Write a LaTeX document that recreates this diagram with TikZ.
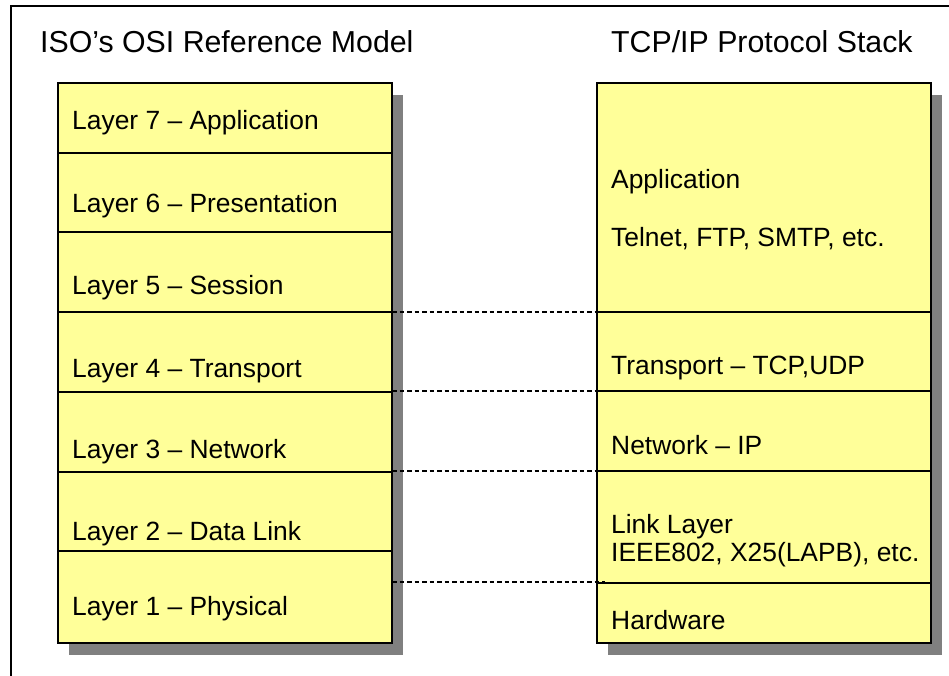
\documentclass[tikz,border=0pt]{standalone}
\usepackage{fontspec}
\setmainfont{Liberation Sans}
\definecolor{boxfill}{HTML}{FFFF99}
\definecolor{shadowgray}{HTML}{808080}
\begin{document}
\begin{tikzpicture}[x=1pt,y=-1pt,
  txt/.style={anchor=base west,inner sep=0pt,font=\fontsize{26.4}{29}\selectfont},
  ttl/.style={anchor=base west,inner sep=0pt,font=\fontsize{30.3}{33}\selectfont},
  shadowbox/.style={fill=shadowgray},
  layerbox/.style={fill=boxfill,draw=black,line width=1.8pt},
  divider/.style={draw=black,line width=1.8pt},
  link/.style={draw=black,line width=2pt,dash pattern=on 4.5pt off 3pt}]
\useasboundingbox (0,0) rectangle (949,676);
\fill[white] (0,0) rectangle (949,676);
% frame
\draw[line width=2.6pt] (11,690) -- (11,6) -- (960,6);
% titles
\node[ttl] (t1) at (40,53) {ISO’s OSI Reference Model};
\node[ttl] (t2) at (611,53) {TCP/IP Protocol Stack};
% left stack
\fill[shadowbox] (69,95) rectangle (403,655);
\path[layerbox] (58,83) rectangle (392,643);
\foreach \y in {153,232,312,392,472,551} \draw[divider] (58,\y) -- (392,\y);
% right stack
\fill[shadowbox] (608,95) rectangle (942,655);
\path[layerbox] (597,83) rectangle (931,643);
\foreach \y in {312,391,471,583} \draw[divider] (597,\y) -- (931,\y);
% left texts
\node[txt] (l7) at (72,130) {Layer 7 – Application};
\node[txt] (l6) at (72,212) {Layer 6 – Presentation};
\node[txt] (l5) at (72,294) {Layer 5 – Session};
\node[txt] (l4) at (72,377) {Layer 4 – Transport};
\node[txt] (l3) at (72,458) {Layer 3 – Network};
\node[txt] (l2) at (72,540) {Layer 2 – Data Link};
\node[txt] (l1) at (72,615) {Layer 1 – Physical};
% right texts
\node[txt] (ra) at (611,189) {Application};
\node[txt] (rt) at (611,247) {Telnet, FTP, SMTP, etc.};
\node[txt] (rtr) at (611,374) {Transport – TCP,UDP};
\node[txt] (rn) at (611,454) {Network – IP};
\node[txt] (rl) at (611,533) {Link Layer};
\node[txt] (rl2) at (611,561) {IEEE802, X25(LAPB), etc.};
\node[txt] (rh) at (611,629) {Hardware};
% connectors
\coordinate (a1) at (392,312); \coordinate (b1) at (605,312);
\coordinate (a2) at (392,391); \coordinate (b2) at (605,391);
\coordinate (a3) at (392,471); \coordinate (b3) at (605,471);
\coordinate (a4) at (392,582); \coordinate (b4) at (605,582);
\draw[link] (a1) -- (b1);
\draw[link] (a2) -- (b2);
\draw[link] (a3) -- (b3);
\draw[link] (a4) -- (b4);
\end{tikzpicture}
\end{document}
